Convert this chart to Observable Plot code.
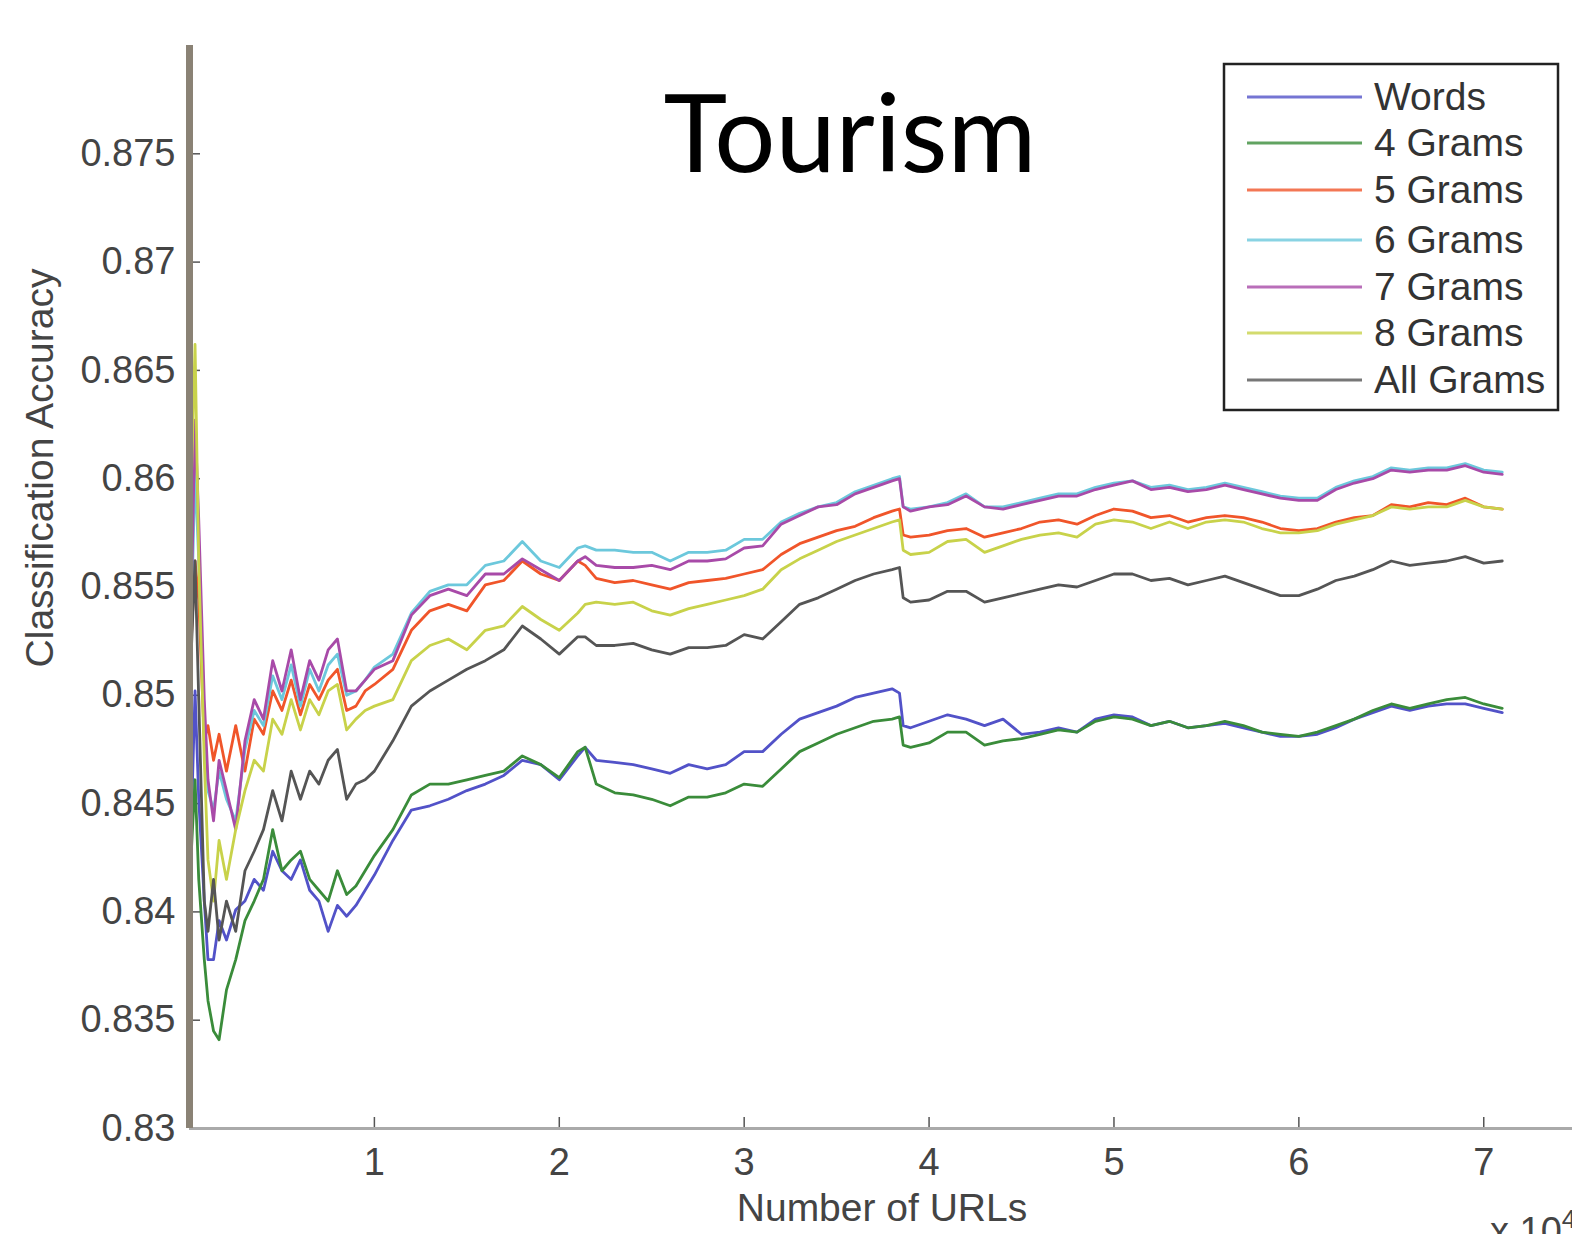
<!DOCTYPE html>
<html><head><meta charset="utf-8">
<script src="https://cdn.jsdelivr.net/npm/d3@7"></script>
<script src="https://cdn.jsdelivr.net/npm/@observablehq/plot@0.6"></script>
<style>
html,body{margin:0;padding:0;background:#fff;overflow:hidden;width:1572px;height:1234px;}
#wrap{position:relative;width:1572px;height:1234px;overflow:hidden;}
</style></head><body><div id="wrap"></div>
<script>
// Number of URLs (x 10^4)
const xs = [0.01,0.03,0.05,0.08,0.1,0.13,0.16,0.2,0.25,0.3,0.35,0.4,0.45,0.5,0.55,0.6,0.65,0.7,0.75,0.8,0.85,0.9,0.95,1.0,
1.1,1.2,1.3,1.4,1.5,1.6,1.7,1.8,1.9,2.0,2.1,2.14,2.2,2.3,2.4,2.5,2.6,2.7,2.8,2.9,3.0,3.1,3.2,3.3,3.4,3.5,3.6,3.7,3.8,3.84,3.86,3.9,
4.0,4.1,4.2,4.3,4.4,4.5,4.6,4.7,4.8,4.9,5.0,5.1,5.2,5.3,5.4,5.5,5.6,5.7,5.8,5.9,6.0,6.1,6.2,6.3,6.4,6.5,6.6,6.7,6.8,6.9,7.0,7.1];

const words = [0.8442,0.8502,0.8452,0.8405,0.8378,0.8378,0.8396,0.8387,0.8401,0.8405,0.8415,0.8410,0.8428,0.8419,0.8415,0.8424,0.8410,0.8405,0.8391,0.8403,0.8398,0.8403,0.8410,0.8417,
0.8433,0.8447,0.8449,0.8452,0.8456,0.8459,0.8463,0.8470,0.8468,0.8461,0.8472,0.8476,0.8470,0.8469,0.8468,0.8466,0.8464,0.8468,0.8466,0.8468,0.8474,0.8474,0.8482,0.8489,0.8492,0.8495,0.8499,0.8501,0.8503,0.8501,0.8486,0.8485,
0.8488,0.8491,0.8489,0.8486,0.8489,0.8482,0.8483,0.8485,0.8483,0.8489,0.8491,0.8490,0.8486,0.8488,0.8485,0.8486,0.8487,0.8485,0.8483,0.8481,0.8481,0.8482,0.8485,0.8489,0.8492,0.8495,0.8493,0.8495,0.8496,0.8496,0.8494,0.8492];

const grams4 = [0.8428,0.8461,0.8415,0.8378,0.8359,0.8345,0.8341,0.8364,0.8378,0.8396,0.8405,0.8415,0.8438,0.8419,0.8424,0.8428,0.8415,0.8410,0.8405,0.8419,0.8408,0.8412,0.8419,0.8426,
0.8438,0.8454,0.8459,0.8459,0.8461,0.8463,0.8465,0.8472,0.8468,0.8462,0.8474,0.8476,0.8459,0.8455,0.8454,0.8452,0.8449,0.8453,0.8453,0.8455,0.8459,0.8458,0.8466,0.8474,0.8478,0.8482,0.8485,0.8488,0.8489,0.8490,0.8477,0.8476,
0.8478,0.8483,0.8483,0.8477,0.8479,0.8480,0.8482,0.8484,0.8483,0.8488,0.8490,0.8489,0.8486,0.8488,0.8485,0.8486,0.8488,0.8486,0.8483,0.8482,0.8481,0.8483,0.8486,0.8489,0.8493,0.8496,0.8494,0.8496,0.8498,0.8499,0.8496,0.8494];

const grams5 = [0.8526,0.8562,0.8544,0.8479,0.8486,0.8470,0.8482,0.8465,0.8486,0.8465,0.8489,0.8482,0.8502,0.8493,0.8507,0.8491,0.8505,0.8498,0.8507,0.8512,0.8493,0.8495,0.8502,0.8505,
0.8512,0.8530,0.8539,0.8542,0.8539,0.8551,0.8553,0.8562,0.8556,0.8553,0.8562,0.8560,0.8554,0.8552,0.8553,0.8551,0.8549,0.8552,0.8553,0.8554,0.8556,0.8558,0.8565,0.8570,0.8573,0.8576,0.8578,0.8582,0.8585,0.8586,0.8574,0.8573,
0.8574,0.8576,0.8577,0.8573,0.8575,0.8577,0.8580,0.8581,0.8579,0.8583,0.8586,0.8585,0.8582,0.8583,0.8580,0.8582,0.8583,0.8582,0.8580,0.8577,0.8576,0.8577,0.8580,0.8582,0.8583,0.8588,0.8587,0.8589,0.8588,0.8591,0.8587,0.8586];

const grams6 = [0.8535,0.8604,0.8562,0.8489,0.8456,0.8447,0.8465,0.8452,0.8442,0.8475,0.8493,0.8486,0.8509,0.8498,0.8514,0.8495,0.8512,0.8502,0.8514,0.8519,0.8500,0.8502,0.8507,0.8513,
0.8519,0.8538,0.8548,0.8551,0.8551,0.8560,0.8562,0.8571,0.8562,0.8559,0.8568,0.8569,0.8567,0.8567,0.8566,0.8566,0.8562,0.8566,0.8566,0.8567,0.8572,0.8572,0.8580,0.8584,0.8587,0.8589,0.8594,0.8597,0.8600,0.8601,0.8587,0.8586,
0.8587,0.8589,0.8593,0.8587,0.8587,0.8589,0.8591,0.8593,0.8593,0.8596,0.8598,0.8599,0.8596,0.8597,0.8595,0.8596,0.8598,0.8596,0.8594,0.8592,0.8591,0.8591,0.8596,0.8599,0.8601,0.8605,0.8604,0.8605,0.8605,0.8607,0.8604,0.8603];

const grams7 = [0.8544,0.8627,0.8581,0.8498,0.8461,0.8442,0.8470,0.8456,0.8438,0.8479,0.8498,0.8489,0.8516,0.8502,0.8521,0.8498,0.8516,0.8507,0.8521,0.8526,0.8502,0.8502,0.8507,0.8512,
0.8516,0.8537,0.8546,0.8549,0.8546,0.8556,0.8556,0.8563,0.8558,0.8553,0.8562,0.8564,0.8560,0.8559,0.8559,0.8560,0.8558,0.8562,0.8562,0.8563,0.8568,0.8569,0.8579,0.8583,0.8587,0.8588,0.8593,0.8596,0.8599,0.8600,0.8587,0.8585,
0.8587,0.8588,0.8592,0.8587,0.8586,0.8588,0.8590,0.8592,0.8592,0.8595,0.8597,0.8599,0.8595,0.8596,0.8594,0.8595,0.8597,0.8595,0.8593,0.8591,0.8590,0.8590,0.8595,0.8598,0.8600,0.8604,0.8603,0.8604,0.8604,0.8606,0.8603,0.8602];

const grams8 = [0.8599,0.8662,0.8562,0.8470,0.8424,0.8405,0.8433,0.8415,0.8438,0.8456,0.8470,0.8465,0.8489,0.8482,0.8498,0.8484,0.8498,0.8491,0.8502,0.8505,0.8484,0.8489,0.8493,0.8495,
0.8498,0.8516,0.8523,0.8526,0.8521,0.8530,0.8532,0.8541,0.8535,0.8530,0.8538,0.8542,0.8543,0.8542,0.8543,0.8539,0.8537,0.8540,0.8542,0.8544,0.8546,0.8549,0.8558,0.8563,0.8567,0.8571,0.8574,0.8577,0.8580,0.8581,0.8567,0.8565,
0.8566,0.8571,0.8572,0.8566,0.8569,0.8572,0.8574,0.8575,0.8573,0.8579,0.8581,0.8580,0.8577,0.8580,0.8577,0.8580,0.8581,0.8580,0.8577,0.8575,0.8575,0.8576,0.8579,0.8581,0.8583,0.8587,0.8586,0.8587,0.8587,0.8590,0.8587,0.8586];

const gramsAll = [0.8521,0.8562,0.8498,0.8405,0.8391,0.8415,0.8387,0.8405,0.8391,0.8419,0.8428,0.8438,0.8456,0.8442,0.8465,0.8452,0.8465,0.8459,0.8470,0.8475,0.8452,0.8459,0.8461,0.8465,
0.8479,0.8495,0.8502,0.8507,0.8512,0.8516,0.8521,0.8532,0.8526,0.8519,0.8527,0.8527,0.8523,0.8523,0.8524,0.8521,0.8519,0.8522,0.8522,0.8523,0.8528,0.8526,0.8534,0.8542,0.8545,0.8549,0.8553,0.8556,0.8558,0.8559,0.8545,0.8543,
0.8544,0.8548,0.8548,0.8543,0.8545,0.8547,0.8549,0.8551,0.8550,0.8553,0.8556,0.8556,0.8553,0.8554,0.8551,0.8553,0.8555,0.8552,0.8549,0.8546,0.8546,0.8549,0.8553,0.8555,0.8558,0.8562,0.8560,0.8561,0.8562,0.8564,0.8561,0.8562];

const seriesNames = ["Words","4 Grams","5 Grams","6 Grams","7 Grams","8 Grams","All Grams"];
const seriesColors = ["#5252c8","#3a8c3a","#f0552a","#6cc8dc","#a84aa8","#c8d24a","#555555"];
const seriesValues = [words, grams4, grams5, grams6, grams7, grams8, gramsAll];

const yTicks = [0.83,0.835,0.84,0.845,0.85,0.855,0.86,0.865,0.87,0.875];
const xTicks = [1,2,3,4,5,6,7];

const rows = [];
seriesNames.forEach((name, i) => {
  seriesValues[i].forEach((v, j) => rows.push({series: name, x: xs[j], v}));
});

const W = 1572, H = 1234, ML = 189, MR = 0, MT = 45, MB = 106;
const plotW = W - ML - MR, plotH = H - MT - MB;
const font = "'Liberation Sans', Arial, sans-serif";
const chart = Plot.plot({
  width: W, height: H,
  marginLeft: ML, marginRight: MR, marginTop: MT, marginBottom: MB,
  x: {domain: [0, 7.48]},
  y: {domain: [0.83, 0.88]},
  color: {domain: seriesNames, range: seriesColors},
  style: {background: "transparent", fontFamily: font, overflow: "visible"},
  marks: [
    Plot.axisY({ticks: yTicks, tickSize: 0, tickPadding: 14, tickFormat: d => String(+d.toFixed(3)), fontSize: 38, fill: "#444", label: null}),
    Plot.axisX({ticks: xTicks, tickSize: 0, tickPadding: 20, fontSize: 38, fill: "#444", label: null}),
    // inward tick marks
    Plot.tickY(yTicks, {y: d => d, insetRight: plotW - 11, stroke: "#555", strokeWidth: 1.5}),
    Plot.tickX(xTicks, {x: d => d, insetTop: plotH - 11, stroke: "#555", strokeWidth: 1.5}),
    Plot.line(rows, {x: "x", y: "v", z: "series", stroke: "series", strokeWidth: 2.8, strokeLinejoin: "round"}),
    Plot.ruleY([0.83], {stroke: "#aaaaaa", strokeWidth: 3}),
    Plot.ruleX([0], {stroke: "#8a8275", strokeWidth: 7})
  ]
});

const svg = d3.select(chart);
// Title
svg.append("text").attr("x", 850).attr("y", 172).attr("text-anchor", "middle")
  .attr("font-family", "Lato, 'Open Sans', sans-serif").attr("font-size", 108).attr("fill", "#000").text("Tourism");
// Y label
svg.append("text").attr("transform", "translate(53,468) rotate(-90)").attr("text-anchor", "middle")
  .attr("font-family", font).attr("font-size", 39).attr("fill", "#444").text("Classification Accuracy");
// X label
svg.append("text").attr("x", 882).attr("y", 1221).attr("text-anchor", "middle")
  .attr("font-family", font).attr("font-size", 39).attr("fill", "#444").text("Number of URLs");
// x 10^4 multiplier (cropped at the page edge as in the original)
const mult = svg.append("text").attr("x", 1490).attr("y", 1244).attr("text-anchor", "start")
  .attr("font-family", font).attr("font-size", 38).attr("fill", "#444");
mult.append("tspan").text("x 10");
mult.append("tspan").attr("dy", -16).attr("font-size", 26).text("4");

// Legend
const lg = svg.append("g");
lg.append("rect").attr("x", 1224).attr("y", 64).attr("width", 334).attr("height", 346)
  .attr("fill", "#fff").attr("stroke", "#222").attr("stroke-width", 2.5);
const legendY = [97, 143, 190, 240, 287, 333, 380];
seriesNames.forEach((name, i) => {
  lg.append("line").attr("x1", 1247).attr("x2", 1362).attr("y1", legendY[i]).attr("y2", legendY[i])
    .attr("stroke", seriesColors[i]).attr("stroke-width", 3).attr("stroke-opacity", 0.8);
  lg.append("text").attr("x", 1374).attr("y", legendY[i] + 13).attr("text-anchor", "start")
    .attr("font-family", font).attr("font-size", 39).attr("fill", "#333").text(name);
});

document.getElementById("wrap").appendChild(chart);
</script></body></html>
